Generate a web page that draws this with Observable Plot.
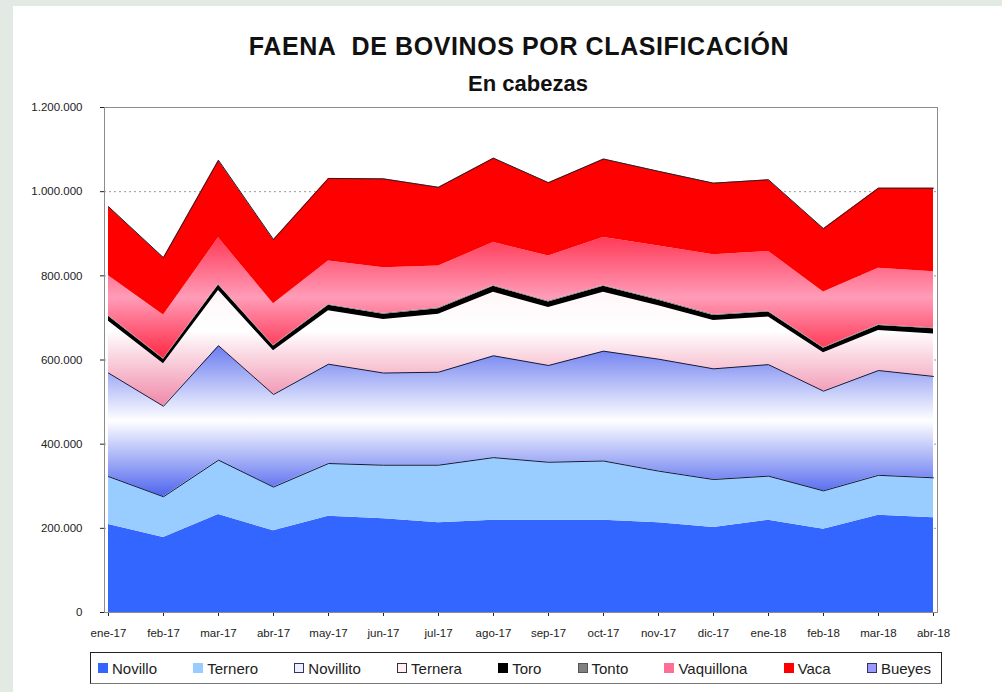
<!DOCTYPE html>
<html>
<head>
<meta charset="utf-8">
<script src="https://cdn.jsdelivr.net/npm/d3@7"></script>
<script src="https://cdn.jsdelivr.net/npm/@observablehq/plot@0.6"></script>
<style>
  html, body { margin: 0; padding: 0; }
  body { width: 1002px; height: 692px; background: #e3e9e3; position: relative; overflow: hidden; font-family: "Liberation Sans", Arial, sans-serif; }
  #panel { position: absolute; left: 13px; top: 6px; width: 989px; height: 686px; background: #fff; }
  .title { position: absolute; text-align: center; font-weight: bold; color: #111; line-height: 1; white-space: nowrap; }
  #chart { position: absolute; left: 0; top: 100px; }
  #legend { position: absolute; left: 90px; top: 652px; width: 852px; height: 32px; border: 1px solid #222; border-bottom-color: #777; box-sizing: border-box; display: flex; align-items: center; justify-content: space-between; padding: 0 10px 0 7px; font-size: 15px; color: #222; }
  .item { display: flex; align-items: center; white-space: nowrap; }
  .sw { width: 10px; height: 10px; margin-right: 4px; box-sizing: border-box; }
</style>
</head>
<body>
<div id="panel"></div>
<div class="title" style="left:0;width:1038px;top:34px;font-size:25px;letter-spacing:0.6px;">FAENA&nbsp; DE BOVINOS POR CLASIFICACIÓN</div>
<div class="title" style="left:0;width:1056px;top:73px;font-size:22px;">En cabezas</div>
<div id="chart"></div>
<div id="legend"></div>
<script>
const meses = ["ene-17","feb-17","mar-17","abr-17","may-17","jun-17","jul-17","ago-17","sep-17","oct-17","nov-17","dic-17","ene-18","feb-18","mar-18","abr-18"];
const series = ["Novillo","Ternero","Novillito","Ternera","Toro","Tonto","Vaquillona","Vaca","Bueyes"];
const novillo    = [209000,178000,233000,194000,229000,223000,213000,219000,219000,219000,213000,202000,219000,198000,231000,225000];
const ternero    = [114000,97000,129000,104000,125000,127000,137000,149000,138000,141000,123000,114000,105000,91000,95000,95000];
const novillito  = [246000,215000,272000,220000,236000,219000,221000,242000,230000,261000,266000,263000,265000,237000,249000,241000];
const ternera    = [123000,101000,131000,104000,127000,127000,138000,151000,138000,140000,127000,115000,113000,91000,95000,101000];
const toro       = [12000,11000,13000,11000,13000,13000,13000,14000,13000,14000,13000,12000,12000,11000,12000,12000];
const tonto      = [2000,1800,2200,1900,2100,2000,2100,2200,2000,2200,2100,1900,2000,1800,2000,1900];
const vaquillona = [94000,103000,110000,99000,103000,108000,99000,102000,107000,114000,127000,142000,142000,132000,134000,134000];
const vaca       = [164000,136000,184000,152000,196000,211000,187000,200000,174000,186000,177000,170000,170000,150000,190000,198000];
const bueyes     = [400,300,400,300,400,400,300,400,300,400,300,300,300,300,300,300];
const yTicks = [0,200000,400000,600000,800000,1000000,1200000];

const valores = [novillo, ternero, novillito, ternera, toro, tonto, vaquillona, vaca, bueyes];
const fills = {
  Novillo: "#3366ff", Ternero: "#99ccff", Novillito: "url(#gNovillito)", Ternera: "url(#gTernera)",
  Toro: "#000000", Tonto: "#808080", Vaquillona: "url(#gVaquillona)", Vaca: "#ff0000", Bueyes: "#9999ff"
};
const strokes = {
  Novillo: "none", Ternero: "#1a1a33", Novillito: "#1a1a33", Ternera: "none",
  Toro: "none", Tonto: "none", Vaquillona: "none", Vaca: "none", Bueyes: "#222222"
};
const legendSw = {
  Novillo: ["#3366ff","#3366ff"], Ternero: ["#99ccff","#99ccff"], Novillito: ["#eef0ff","#333366"],
  Ternera: ["#fff0f4","#333"], Toro: ["#000","#000"], Tonto: ["#808080","#555"],
  Vaquillona: ["#ff6f95","#ff6f95"], Vaca: ["#ff0000","#ff0000"], Bueyes: ["#9999ff","#333366"]
};

const data = [];
series.forEach((s, i) => meses.forEach((m, j) => data.push({serie: s, mes: m, valor: valores[i][j]})));

const fmt = d => d3.format(",")(d).replace(/,/g, ".");

const plot = Plot.plot({
  width: 1002,
  height: 545,
  marginLeft: 104,
  marginRight: 65,
  marginTop: 7,
  marginBottom: 33,
  style: {fontFamily: "'Liberation Sans', Arial, sans-serif", fontSize: "11.5px", color: "#222", background: "transparent"},
  x: {type: "point", domain: meses, padding: 0, label: null, tickSize: 4, tickPadding: 12},
  y: {domain: [0, 1200000], ticks: yTicks, tickFormat: fmt, label: null, tickSize: 4, tickPadding: 18},
  color: {type: "identity"},
  marks: [
    Plot.ruleY(yTicks.slice(1), {stroke: "#999", strokeDasharray: "2,3"}),
    Plot.areaY(data, Plot.stackY({x: "mes", y: "valor", z: "serie", fill: d => fills[d.serie]})),
    Plot.lineY(data, Plot.stackY2({x: "mes", y: "valor", z: "serie", stroke: d => strokes[d.serie], strokeWidth: 1})),
    Plot.frame({stroke: "#8c8c8c"})
  ]
});

const svg = d3.select(plot);
const defs = svg.insert("defs", ":first-child");
function grad(id, stops) {
  const g = defs.append("linearGradient").attr("id", id).attr("x1", 0).attr("y1", 0).attr("x2", 0).attr("y2", 1);
  stops.forEach(([o, c]) => g.append("stop").attr("offset", o).attr("stop-color", c));
}
grad("gNovillito", [[0, "#6a7cf0"], [0.5, "#ffffff"], [1, "#4e64ee"]]);
grad("gTernera", [[0, "#fff6f8"], [0.35, "#ffffff"], [1, "#f088a8"]]);
grad("gVaquillona", [[0, "#ff3a58"], [0.5, "#ff9cb8"], [1, "#ff2844"]]);

document.getElementById("chart").appendChild(plot);

const legend = d3.select("#legend");
series.forEach(s => {
  const it = legend.append("div").attr("class", "item");
  it.append("div").attr("class", "sw").style("background", legendSw[s][0]).style("border", "1px solid " + legendSw[s][1]);
  it.append("span").text(s);
});
</script>
</body>
</html>
